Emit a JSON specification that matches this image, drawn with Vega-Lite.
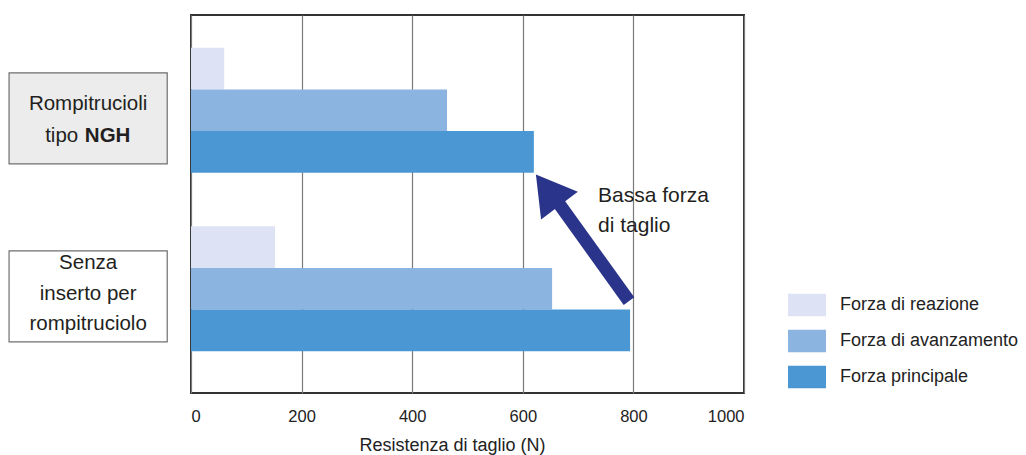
{
  "$schema": "https://vega.github.io/schema/vega-lite/v6.json",
  "width": 553,
  "height": 378,
  "autosize": {"type": "none"},
  "padding": {"left": 191, "top": 15, "right": 282, "bottom": 62},
  "background": "#ffffff",
  "config": {
    "font": "Liberation Sans",
    "view": {"stroke": "#333333", "strokeWidth": 2},
    "axisX": {
      "grid": true,
      "gridColor": "#7a7a7a",
      "gridWidth": 1.2,
      "domain": false,
      "ticks": false,
      "labelFontSize": 16.5,
      "labelColor": "#222222",
      "labelPadding": 15,
      "labelFlush": true,
      "titleFontSize": 18,
      "titleFontWeight": "normal",
      "titleColor": "#222222"
    }
  },
  "datasets": {
    "bars": [
      {"tipo": "Rompitrucioli tipo NGH", "forza": "Forza di reazione", "valore": 60},
      {"tipo": "Rompitrucioli tipo NGH", "forza": "Forza di avanzamento", "valore": 463},
      {"tipo": "Rompitrucioli tipo NGH", "forza": "Forza principale", "valore": 620},
      {"tipo": "Senza inserto per rompitruciolo", "forza": "Forza di reazione", "valore": 152},
      {"tipo": "Senza inserto per rompitruciolo", "forza": "Forza di avanzamento", "valore": 653},
      {"tipo": "Senza inserto per rompitruciolo", "forza": "Forza principale", "valore": 794}
    ],
    "boxNGH": [{"x1": -329, "x2": -43, "y1": 847, "y2": 606}],
    "boxSenza": [{"x1": -329, "x2": -43, "y1": 376, "y2": 135}],
    "righe": [
      {"testo": "Rompitrucioli", "x": -186, "y": 765},
      {"testo": "Senza", "x": -186, "y": 344},
      {"testo": "inserto per", "x": -186, "y": 262},
      {"testo": "rompitruciolo", "x": -186, "y": 183}
    ],
    "tipo": [{"testo": "tipo", "x": -204, "y": 680}],
    "ngh": [{"testo": "NGH", "x": -192, "y": 680}],
    "freccia": [{"x": 792, "y": 243, "x2": 660, "y2": 512}],
    "punta": [{"x": 645, "y": 537}],
    "nota": [
      {"testo": "Bassa forza", "x": 736, "y": 521},
      {"testo": "di taglio", "x": 736, "y": 442}
    ]
  },
  "layer": [
    {
      "data": {"name": "bars"},
      "mark": {"type": "bar"},
      "encoding": {
        "y": {
          "field": "tipo",
          "type": "nominal",
          "sort": ["Rompitrucioli tipo NGH", "Senza inserto per rompitruciolo"],
          "scale": {"paddingInner": 0.3, "paddingOuter": 0.2087, "align": 0.44},
          "axis": null
        },
        "yOffset": {
          "field": "forza",
          "type": "nominal",
          "sort": ["Forza di reazione", "Forza di avanzamento", "Forza principale"],
          "scale": {"paddingInner": 0, "paddingOuter": 0}
        },
        "x": {
          "field": "valore",
          "type": "quantitative",
          "scale": {"domain": [0, 1000], "nice": false},
          "title": "Resistenza di taglio (N)",
          "axis": {
            "values": [0, 200, 400, 600, 800, 1000],
            "format": "d",
            "titleX": 261,
            "titleY": 57,
            "titleAlign": "center",
            "titleBaseline": "alphabetic"
          }
        },
        "color": {
          "field": "forza",
          "type": "nominal",
          "sort": ["Forza di reazione", "Forza di avanzamento", "Forza principale"],
          "scale": {
            "domain": ["Forza di reazione", "Forza di avanzamento", "Forza principale"],
            "range": ["#dde3f5", "#8bb4e0", "#4a97d3"]
          },
          "legend": {
            "title": null,
            "orient": "none",
            "legendX": 597,
            "legendY": 271,
            "symbolType": "M-1,-0.59H1V0.59H-1Z",
            "symbolSize": 1444,
            "symbolStrokeWidth": 0,
            "symbolOpacity": 1,
            "labelFontSize": 18,
            "labelColor": "#222222",
            "labelOffset": 14,
            "labelLimit": 300,
            "rowPadding": 5,
            "padding": 0
          }
        }
      }
    },
    {
      "data": {"name": "boxNGH"},
      "mark": {"type": "rect", "fill": "#ececec", "stroke": "#6f6f6f", "strokeWidth": 1.2},
      "encoding": {
        "x": {"field": "x1", "type": "quantitative", "scale": {"domain": [0, 1000], "nice": false}, "title": "Resistenza di taglio (N)"},
        "x2": {"field": "x2"},
        "y": {"field": "y1", "type": "quantitative", "scale": {"domain": [0, 1000], "nice": false}, "axis": null},
        "y2": {"field": "y2"}
      }
    },
    {
      "data": {"name": "boxSenza"},
      "mark": {"type": "rect", "fill": "#ffffff", "stroke": "#6f6f6f", "strokeWidth": 1.2},
      "encoding": {
        "x": {"field": "x1", "type": "quantitative", "scale": {"domain": [0, 1000], "nice": false}, "title": "Resistenza di taglio (N)"},
        "x2": {"field": "x2"},
        "y": {"field": "y1", "type": "quantitative", "scale": {"domain": [0, 1000], "nice": false}, "axis": null},
        "y2": {"field": "y2"}
      }
    },
    {
      "data": {"name": "righe"},
      "mark": {"type": "text", "fontSize": 20.5, "color": "#231f20", "align": "center", "baseline": "middle"},
      "encoding": {
        "x": {"field": "x", "type": "quantitative", "scale": {"domain": [0, 1000], "nice": false}, "title": "Resistenza di taglio (N)"},
        "y": {"field": "y", "type": "quantitative", "scale": {"domain": [0, 1000], "nice": false}, "axis": null},
        "text": {"field": "testo"}
      }
    },
    {
      "data": {"name": "tipo"},
      "mark": {"type": "text", "fontSize": 20.5, "color": "#231f20", "align": "right", "baseline": "middle"},
      "encoding": {
        "x": {"field": "x", "type": "quantitative", "scale": {"domain": [0, 1000], "nice": false}, "title": "Resistenza di taglio (N)"},
        "y": {"field": "y", "type": "quantitative", "scale": {"domain": [0, 1000], "nice": false}, "axis": null},
        "text": {"field": "testo"}
      }
    },
    {
      "data": {"name": "ngh"},
      "mark": {"type": "text", "fontSize": 20.5, "fontWeight": "bold", "color": "#231f20", "align": "left", "baseline": "middle"},
      "encoding": {
        "x": {"field": "x", "type": "quantitative", "scale": {"domain": [0, 1000], "nice": false}, "title": "Resistenza di taglio (N)"},
        "y": {"field": "y", "type": "quantitative", "scale": {"domain": [0, 1000], "nice": false}, "axis": null},
        "text": {"field": "testo"}
      }
    },
    {
      "data": {"name": "freccia"},
      "mark": {"type": "rule", "color": "#2a348a", "strokeWidth": 13, "strokeCap": "butt"},
      "encoding": {
        "x": {"field": "x", "type": "quantitative", "scale": {"domain": [0, 1000], "nice": false}, "title": "Resistenza di taglio (N)"},
        "x2": {"field": "x2"},
        "y": {"field": "y", "type": "quantitative", "scale": {"domain": [0, 1000], "nice": false}, "axis": null},
        "y2": {"field": "y2"}
      }
    },
    {
      "data": {"name": "punta"},
      "mark": {"type": "point", "shape": "M0,-0.85L1,0.85L-1,0.85Z", "size": 2116, "angle": -37, "filled": true, "color": "#2a348a", "opacity": 1, "strokeWidth": 0},
      "encoding": {
        "x": {"field": "x", "type": "quantitative", "scale": {"domain": [0, 1000], "nice": false}, "title": "Resistenza di taglio (N)"},
        "y": {"field": "y", "type": "quantitative", "scale": {"domain": [0, 1000], "nice": false}, "axis": null}
      }
    },
    {
      "data": {"name": "nota"},
      "mark": {"type": "text", "fontSize": 21, "color": "#231f20", "align": "left", "baseline": "middle"},
      "encoding": {
        "x": {"field": "x", "type": "quantitative", "scale": {"domain": [0, 1000], "nice": false}, "title": "Resistenza di taglio (N)"},
        "y": {"field": "y", "type": "quantitative", "scale": {"domain": [0, 1000], "nice": false}, "axis": null},
        "text": {"field": "testo"}
      }
    }
  ],
  "resolve": {"scale": {"y": "independent"}}
}
